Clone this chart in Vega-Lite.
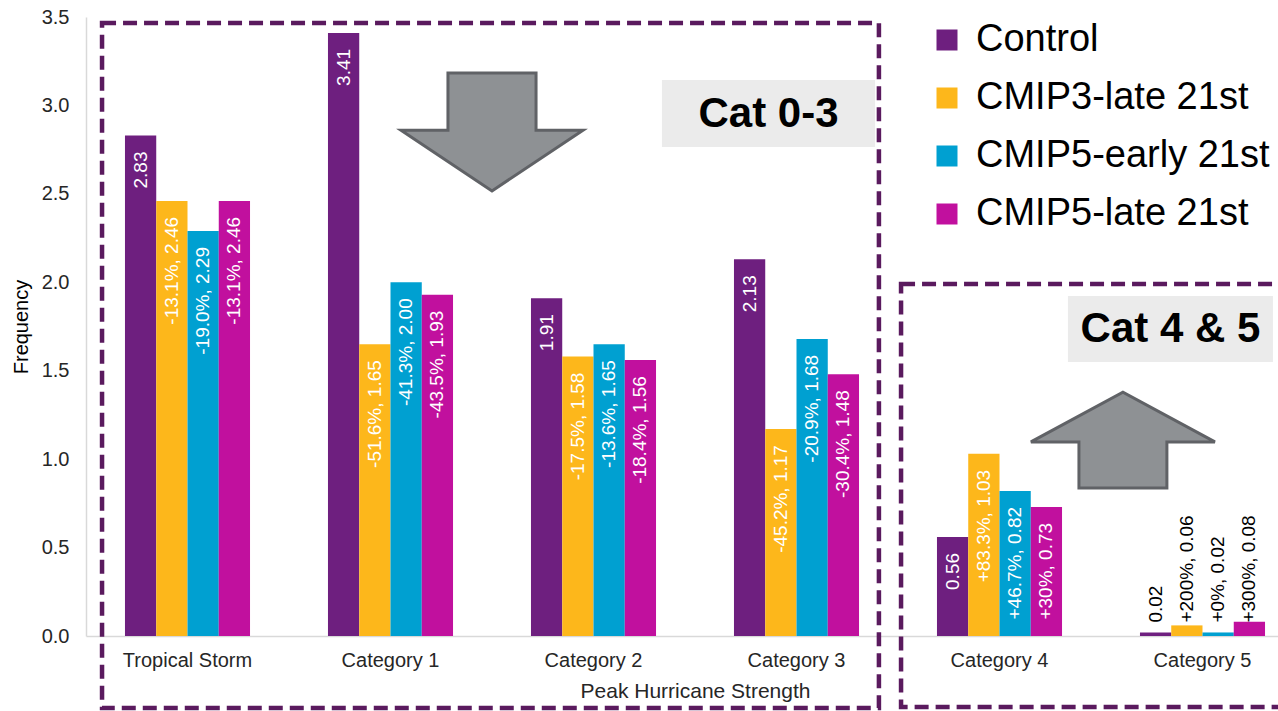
{
  "$schema": "https://vega.github.io/schema/vega-lite/v6.json",
  "width": 1192,
  "height": 619,
  "autosize": {"type": "none"},
  "padding": {"left": 86, "top": 17, "right": 0, "bottom": 75},
  "background": "white",
  "config": {
    "view": {"stroke": null},
    "font": "Liberation Sans",
    "text": {"font": "Liberation Sans"}
  },
  "datasets": {
    "bars": [
      {"cat": "Tropical Storm", "series": "Control", "value": 2.83, "label": "2.83"},
      {"cat": "Tropical Storm", "series": "CMIP3-late 21st", "value": 2.46, "label": "-13.1%, 2.46"},
      {"cat": "Tropical Storm", "series": "CMIP5-early 21st", "value": 2.29, "label": "-19.0%, 2.29"},
      {"cat": "Tropical Storm", "series": "CMIP5-late 21st", "value": 2.46, "label": "-13.1%, 2.46"},
      {"cat": "Category 1", "series": "Control", "value": 3.41, "label": "3.41"},
      {"cat": "Category 1", "series": "CMIP3-late 21st", "value": 1.65, "label": "-51.6%, 1.65"},
      {"cat": "Category 1", "series": "CMIP5-early 21st", "value": 2.00, "label": "-41.3%, 2.00"},
      {"cat": "Category 1", "series": "CMIP5-late 21st", "value": 1.93, "label": "-43.5%, 1.93"},
      {"cat": "Category 2", "series": "Control", "value": 1.91, "label": "1.91"},
      {"cat": "Category 2", "series": "CMIP3-late 21st", "value": 1.58, "label": "-17.5%, 1.58"},
      {"cat": "Category 2", "series": "CMIP5-early 21st", "value": 1.65, "label": "-13.6%, 1.65"},
      {"cat": "Category 2", "series": "CMIP5-late 21st", "value": 1.56, "label": "-18.4%, 1.56"},
      {"cat": "Category 3", "series": "Control", "value": 2.13, "label": "2.13"},
      {"cat": "Category 3", "series": "CMIP3-late 21st", "value": 1.17, "label": "-45.2%, 1.17"},
      {"cat": "Category 3", "series": "CMIP5-early 21st", "value": 1.68, "label": "-20.9%, 1.68"},
      {"cat": "Category 3", "series": "CMIP5-late 21st", "value": 1.48, "label": "-30.4%, 1.48"},
      {"cat": "Category 4", "series": "Control", "value": 0.56, "label": "0.56"},
      {"cat": "Category 4", "series": "CMIP3-late 21st", "value": 1.03, "label": "+83.3%, 1.03"},
      {"cat": "Category 4", "series": "CMIP5-early 21st", "value": 0.82, "label": "+46.7%, 0.82"},
      {"cat": "Category 4", "series": "CMIP5-late 21st", "value": 0.73, "label": "+30%, 0.73"},
      {"cat": "Category 5", "series": "Control", "value": 0.02, "label": "0.02"},
      {"cat": "Category 5", "series": "CMIP3-late 21st", "value": 0.06, "label": "+200%, 0.06"},
      {"cat": "Category 5", "series": "CMIP5-early 21st", "value": 0.02, "label": "+0%, 0.02"},
      {"cat": "Category 5", "series": "CMIP5-late 21st", "value": 0.08, "label": "+300%, 0.08"}
    ],
    "boxes": [
      {"x0": 0.079, "x1": 3.906, "y0": -0.407, "y1": 3.466},
      {"x0": 4.015, "x1": 6.3, "y0": -0.401, "y1": 1.99}
    ],
    "tags": [
      {"label": "Cat 0-3", "x0": 2.837, "x1": 3.887, "y0": 2.765, "y1": 3.144, "xc": 3.362, "yc": 2.954},
      {"label": "Cat 4 & 5", "x0": 4.837, "x1": 5.847, "y0": 1.549, "y1": 1.922, "xc": 5.342, "yc": 1.736}
    ],
    "down": [{"ax": 2.0, "ay": 2.85}],
    "up": [{"ax": 5.108, "ay": 1.108}]
  },
  "resolve": {"scale": {"x": "independent"}, "axis": {"x": "independent"}},
  "layer": [
    {
      "data": {"name": "boxes"},
      "mark": {"type": "rect", "filled": false, "stroke": "#5a1a5e", "strokeWidth": 4.5, "strokeDash": [14, 7]},
      "encoding": {
        "x": {"field": "x0", "type": "quantitative", "scale": {"domain": [0, 6], "range": [0, 1218], "nice": false, "zero": false}, "axis": null},
        "x2": {"field": "x1"},
        "y": {"field": "y0", "type": "quantitative", "scale": {"domain": [0, 3.5], "nice": false}, "title": "Frequency"},
        "y2": {"field": "y1"}
      }
    },
    {
      "data": {"name": "tags"},
      "mark": {"type": "rect", "fill": "#ebebeb"},
      "encoding": {
        "x": {"field": "x0", "type": "quantitative", "scale": {"domain": [0, 6], "range": [0, 1218], "nice": false, "zero": false}, "axis": null},
        "x2": {"field": "x1"},
        "y": {"field": "y0", "type": "quantitative", "title": "Frequency"},
        "y2": {"field": "y1"}
      }
    },
    {
      "data": {"name": "tags"},
      "mark": {"type": "text", "fontSize": 42, "fontWeight": "bold", "color": "black", "align": "center", "baseline": "middle"},
      "encoding": {
        "x": {"field": "xc", "type": "quantitative", "scale": {"domain": [0, 6], "range": [0, 1218], "nice": false, "zero": false}, "axis": null},
        "y": {"field": "yc", "type": "quantitative", "title": "Frequency"},
        "text": {"field": "label"}
      }
    },
    {
      "data": {"name": "down"},
      "mark": {"type": "point", "filled": true, "fill": "#8e9194", "stroke": "#606266", "strokeWidth": 3, "opacity": 1, "size": 33124,
        "shape": "M -0.484 -0.648 L 0.484 -0.648 L 0.484 -0.02 L 1 -0.02 L 0 0.648 L -1 -0.02 L -0.484 -0.02 Z"},
      "encoding": {
        "x": {"field": "ax", "type": "quantitative", "scale": {"domain": [0, 6], "range": [0, 1218], "nice": false, "zero": false}, "axis": null},
        "y": {"field": "ay", "type": "quantitative", "title": "Frequency"}
      }
    },
    {
      "data": {"name": "up"},
      "mark": {"type": "point", "filled": true, "fill": "#8e9194", "stroke": "#606266", "strokeWidth": 3, "opacity": 1, "size": 33856,
        "shape": "M -0.478 0.52 L 0.478 0.52 L 0.478 0.02 L 1 0.02 L 0 -0.52 L -1 0.02 L -0.478 0.02 Z"},
      "encoding": {
        "x": {"field": "ax", "type": "quantitative", "scale": {"domain": [0, 6], "range": [0, 1218], "nice": false, "zero": false}, "axis": null},
        "y": {"field": "ay", "type": "quantitative", "title": "Frequency"}
      }
    },
    {
      "data": {"name": "bars"},
      "mark": {"type": "bar"},
      "encoding": {
        "x": {"field": "cat", "type": "nominal", "sort": null,
          "scale": {"domain": ["Tropical Storm", "Category 1", "Category 2", "Category 3", "Category 4", "Category 5"], "range": [0, 1218], "paddingInner": 0.384, "paddingOuter": 0.192},
          "axis": {"title": "Peak Hurricane Strength", "labelAngle": 0, "labelFontSize": 20, "labelColor": "#262626", "labelPadding": 14, "ticks": false, "domainColor": "#d9d9d9", "domainWidth": 1.5, "titleFontSize": 21, "titleFontWeight": "normal", "titleColor": "#262626", "titlePadding": 10}},
        "xOffset": {"field": "series", "type": "nominal", "scale": {"domain": ["Control", "CMIP3-late 21st", "CMIP5-early 21st", "CMIP5-late 21st"]}},
        "y": {"field": "value", "type": "quantitative", "title": "Frequency",
          "axis": {"values": [0, 0.5, 1, 1.5, 2, 2.5, 3, 3.5], "format": ".1f", "labelFontSize": 20, "labelColor": "#262626", "labelPadding": 17, "ticks": false, "grid": false, "domainColor": "#d9d9d9", "domainWidth": 1.5, "titleFontSize": 20, "titleFontWeight": "normal", "titleColor": "#000000", "titlePadding": 10}},
        "color": {"field": "series", "type": "nominal",
          "scale": {"domain": ["Control", "CMIP3-late 21st", "CMIP5-early 21st", "CMIP5-late 21st"], "range": ["#6e1f7f", "#fdb71b", "#00a0d1", "#c1109e"]},
          "legend": {"title": null, "orient": "none", "legendX": 842, "legendY": 4, "symbolType": "square", "symbolSize": 441, "symbolStrokeWidth": 0, "labelFontSize": 38, "labelColor": "#000000", "labelOffset": 10, "rowPadding": 20, "labelLimit": 500}}
      }
    },
    {
      "data": {"name": "bars"},
      "transform": [{"filter": "datum.cat !== 'Category 5'"}],
      "mark": {"type": "text", "angle": 270, "align": "right", "baseline": "middle", "dx": -16, "fontSize": 19, "color": "white"},
      "encoding": {
        "x": {"field": "cat", "type": "nominal", "sort": null,
          "scale": {"domain": ["Tropical Storm", "Category 1", "Category 2", "Category 3", "Category 4", "Category 5"], "range": [0, 1218], "paddingInner": 0.384, "paddingOuter": 0.192}, "axis": null},
        "xOffset": {"field": "series", "type": "nominal", "scale": {"domain": ["Control", "CMIP3-late 21st", "CMIP5-early 21st", "CMIP5-late 21st"]}},
        "y": {"field": "value", "type": "quantitative", "title": "Frequency"},
        "text": {"field": "label"}
      }
    },
    {
      "data": {"name": "bars"},
      "transform": [{"filter": "datum.cat === 'Category 5'"}],
      "mark": {"type": "text", "angle": 270, "align": "left", "baseline": "middle", "fontSize": 19, "color": "black"},
      "encoding": {
        "x": {"field": "cat", "type": "nominal", "sort": null,
          "scale": {"domain": ["Tropical Storm", "Category 1", "Category 2", "Category 3", "Category 4", "Category 5"], "range": [0, 1218], "paddingInner": 0.384, "paddingOuter": 0.192}, "axis": null},
        "xOffset": {"field": "series", "type": "nominal", "scale": {"domain": ["Control", "CMIP3-late 21st", "CMIP5-early 21st", "CMIP5-late 21st"]}},
        "y": {"datum": 0.076, "type": "quantitative"},
        "text": {"field": "label"}
      }
    }
  ]
}
